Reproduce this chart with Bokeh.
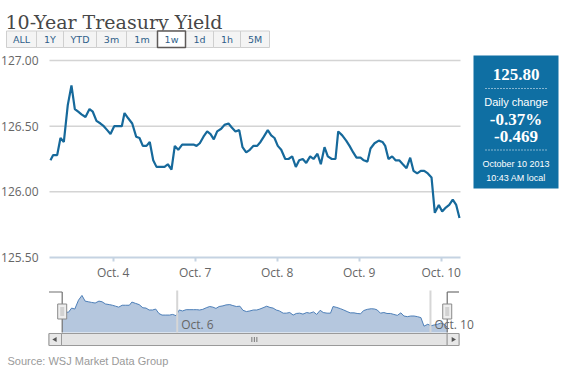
import math
from bokeh.plotting import figure
from bokeh.models import Range1d, FixedTicker, LinearAxis, PrintfTickFormatter
from bokeh.core.properties import value
from bokeh.embed import file_html
from bokeh.resources import INLINE

# ---------------- data ----------------
TITLE = "10-Year Treasury Yield"
BUTTONS = ["ALL", "1Y", "YTD", "3m", "1m", "1w", "1d", "1h", "5M"]
SELECTED = "1w"

# x: trading-day index (Oct. 4 = 0, Oct. 7 = 1, ... Oct. 10 = 4), hourly readings
DAYS = [-0.765, -0.732, -0.683, -0.643, -0.602, -0.554, -0.509, -0.468, -0.427, -0.387,
        -0.338, -0.289, -0.249, -0.204, -0.155, -0.115, -0.073, -0.033, 0.012, 0.056,
        0.105, 0.138, 0.183, 0.232, 0.280, 0.321, 0.361, 0.406, 0.446, 0.488,
        0.528, 0.577, 0.626, 0.666, 0.711, 0.751, 0.793, 0.841, 0.890, 0.939,
        0.979, 1.016, 1.056, 1.101, 1.146, 1.187, 1.227, 1.268, 1.317, 1.357,
        1.406, 1.446, 1.491, 1.537, 1.577, 1.622, 1.666, 1.711, 1.756, 1.796,
        1.837, 1.885, 1.927, 1.967, 2.007, 2.049, 2.098, 2.138, 2.183, 2.227,
        2.268, 2.312, 2.354, 2.402, 2.443, 2.491, 2.532, 2.577, 2.617, 2.666,
        2.711, 2.744, 2.793, 2.841, 2.882, 2.927, 2.967, 3.016, 3.056, 3.101,
        3.138, 3.187, 3.239, 3.284, 3.317, 3.357, 3.402, 3.443, 3.488, 3.532,
        3.577, 3.622, 3.662, 3.707, 3.751, 3.793, 3.837, 3.882, 3.922, 3.971,
        4.012, 4.056, 4.098, 4.141, 4.183, 4.223]
YIELD = [126.24, 126.28, 126.28, 126.41, 126.38, 126.66, 126.81, 126.63, 126.61, 126.59,
         126.57, 126.63, 126.61, 126.54, 126.52, 126.50, 126.47, 126.44, 126.50, 126.50,
         126.50, 126.60, 126.56, 126.52, 126.42, 126.41, 126.35, 126.35, 126.38, 126.24,
         126.19, 126.19, 126.19, 126.21, 126.17, 126.35, 126.32, 126.36, 126.36, 126.36,
         126.36, 126.35, 126.37, 126.42, 126.46, 126.44, 126.40, 126.46, 126.48, 126.51,
         126.52, 126.49, 126.46, 126.47, 126.34, 126.30, 126.32, 126.35, 126.35, 126.38,
         126.42, 126.47, 126.43, 126.41, 126.35, 126.32, 126.25, 126.25, 126.27, 126.19,
         126.24, 126.25, 126.22, 126.27, 126.25, 126.29, 126.21, 126.34, 126.27, 126.25,
         126.25, 126.46, 126.43, 126.39, 126.35, 126.30, 126.26, 126.26, 126.24, 126.23,
         126.33, 126.37, 126.39, 126.38, 126.35, 126.25, 126.27, 126.24, 126.24, 126.21,
         126.18, 126.26, 126.16, 126.14, 126.16, 126.16, 126.14, 126.11, 125.84, 125.90,
         125.85, 125.88, 125.90, 125.94, 125.90, 125.80]

XTICKS = [0, 1, 2, 3, 4]
XLABELS = ["Oct. 4", "Oct. 7", "Oct. 8", "Oct. 9", "Oct. 10"]
YTICKS = [125.5, 126.0, 126.5, 127.0]
NAV_TICKS = [0.725, 4.006]
NAV_LABELS = ["Oct. 6", "Oct. 10"]

LAST = "125.80"
CHANGE_LABEL = "Daily change"
CHANGE_PCT = "-0.37%"
CHANGE_ABS = "-0.469"
DATE = "October 10 2013"
TIME = "10:43 AM local"
SOURCE = "Source: WSJ Market Data Group"

# ---------------- styles / layout ----------------
SANS = value("Open Sans")
ARIAL = value("Liberation Sans")
SERIF = value("Liberation Serif")
AXIS_TXT = "#666666"
LINE_BLUE = "#16699b"
PANEL_BLUE = "#0f6fa3"

W, H = 562, 367
PX0, PX1 = 0, W              # page-pixel coordinates covered by the canvas
PY0, PY1 = 0, H

# main chart: plot area in page pixels and its scale
MAIN_L, MAIN_R = 49, 460
DAY0_PX, PX_PER_DAY = 112.7, 82.0
VAL_REF, VAL_REF_PX, PX_PER_VAL = 127.0, 60.0, 197 / 1.5
# navigator scale
NAV_PX_PER_DAY = 77.19
NAV_D0_PX = 61.7 + 0.765 * NAV_PX_PER_DAY
NAV_V0, NAV_V0_PX, NAV_PX_PER_VAL = 125.64, 332.0, 31.7


def mxv(px):
    return (px - DAY0_PX) / PX_PER_DAY


def myv(py):
    return VAL_REF - (py - VAL_REF_PX) / PX_PER_VAL


def nxv(px):
    return (px - NAV_D0_PX) / NAV_PX_PER_DAY


def nyv(py):
    return NAV_V0 + (NAV_V0_PX - py) / NAV_PX_PER_VAL


p = figure(width=W, height=H, x_range=Range1d(PX0, PX1), y_range=Range1d(PY1, PY0),
           output_backend="svg", toolbar_location=None,
           x_axis_location=None, y_axis_location=None)
p.min_border_left = 0
p.min_border_right = 0
p.min_border_top = 0
p.min_border_bottom = 0
p.outline_line_color = None
p.grid.visible = False
p.extra_x_ranges = {"mx": Range1d(mxv(PX0), mxv(PX1)), "nx": Range1d(nxv(PX0), nxv(PX1))}
p.extra_y_ranges = {"my": Range1d(myv(PY1), myv(PY0)), "ny": Range1d(nyv(PY1), nyv(PY0))}

# ---------------- header: title + range buttons ----------------
p.text(x=[5], y=[21], text=[TITLE], text_font=value("DejaVu Serif"),
       text_font_size="19px", text_color="#474747", text_baseline="alphabetic")

BTN_W = [30, 27, 33, 30, 31, 28, 28, 27, 29]
lefts, rights = [], []
xpos = 6
for w in BTN_W:
    lefts.append(xpos)
    rights.append(xpos + w)
    xpos += w
centers = [(a + b) / 2 for a, b in zip(lefts, rights)]
p.quad(left=lefts, right=rights, top=30.5, bottom=47, fill_color="#f4f4f4",
       line_color="#cfcfcf", line_width=1)
si = BUTTONS.index(SELECTED)
p.quad(left=[lefts[si]], right=[rights[si]], top=30.5, bottom=47, fill_color="#ffffff",
       line_color="#5e5a58", line_width=1.5)
p.text(x=centers, y=[39] * len(centers), text=BUTTONS, text_font=value("DejaVu Sans"),
       text_font_size="9.5px", text_color="#2f5f8a", text_align="center",
       text_baseline="middle")

# ---------------- main chart ----------------
CX0, CX1 = mxv(MAIN_L), mxv(MAIN_R)
p.segment(x0=[CX0] * 3, x1=[CX1] * 3, y0=YTICKS[1:], y1=YTICKS[1:],
          x_range_name="mx", y_range_name="my", line_color="#d4d4d4", line_width=1.5)
p.line(DAYS, YIELD, x_range_name="mx", y_range_name="my", line_color=LINE_BLUE,
       line_width=2.2)

yax = LinearAxis(x_range_name="mx", y_range_name="my", fixed_location=CX0,
                 ticker=FixedTicker(ticks=YTICKS), formatter=PrintfTickFormatter(format="%.2f"))
yax.axis_line_color = None
yax.major_tick_line_color = None
yax.minor_tick_line_color = None
yax.major_label_standoff = 5
yax.major_label_text_font = "Open Sans"
yax.major_label_text_font_size = "12px"
yax.major_label_text_color = AXIS_TXT
p.add_layout(yax, "left")

xax = LinearAxis(x_range_name="mx", y_range_name="my", fixed_location=YTICKS[0],
                 bounds=(CX0, CX1), ticker=FixedTicker(ticks=XTICKS))
xax.major_label_overrides = {t: l for t, l in zip(XTICKS, XLABELS)}
xax.axis_line_color = "#c5d3e2"
xax.axis_line_width = 2
xax.major_tick_line_color = "#c5d3e2"
xax.major_tick_line_width = 2
xax.major_tick_out = 4
xax.major_tick_in = 0
xax.minor_tick_line_color = None
xax.major_label_standoff = 2
xax.major_label_text_font = "Open Sans"
xax.major_label_text_font_size = "12px"
xax.major_label_text_color = AXIS_TXT
p.add_layout(xax, "below")

# ---------------- right info panel ----------------
p.quad(left=[473], right=[558], top=[55], bottom=[188], fill_color=PANEL_BLUE, line_color=None)
cx = 515.5
p.text(x=[cx], y=[73.5], text=[LAST], text_font=SERIF, text_font_style="bold",
       text_font_size="17px", text_color="white", text_align="center", text_baseline="middle")
p.segment(x0=[485, 485], y0=[88, 149.5], x1=[548, 548], y1=[88, 149.5],
          line_color="white", line_width=1, line_dash="1 2")
p.text(x=[cx], y=[101.5], text=[CHANGE_LABEL], text_font=ARIAL, text_font_size="11px",
       text_color="white", text_align="center", text_baseline="middle")
p.text(x=[cx, cx], y=[118.5, 136], text=[CHANGE_PCT, CHANGE_ABS], text_font=SERIF,
       text_font_style="bold", text_font_size="17px", text_color="white",
       text_align="center", text_baseline="middle")
p.text(x=[cx, cx], y=[163, 177.5], text=[DATE, TIME], text_font=ARIAL,
       text_font_size="9px", text_color="white", text_align="center",
       text_baseline="middle")

# ---------------- navigator ----------------
NAV_BASE = nyv(332)
p.varea(x=DAYS, y1=[NAV_BASE] * len(DAYS), y2=YIELD, x_range_name="nx", y_range_name="ny",
        fill_color="#b5c7de")
p.line(DAYS, YIELD, x_range_name="nx", y_range_name="ny", line_color="#4d7fb8", line_width=1)
p.segment(x0=NAV_TICKS, x1=NAV_TICKS, y0=[nyv(290)] * 2, y1=[NAV_BASE] * 2,
          x_range_name="nx", y_range_name="ny", line_color="#d6d6d6", line_width=2)
p.text(x=NAV_TICKS, y=[nyv(324)] * 2, text=NAV_LABELS, x_offset=4,
       x_range_name="nx", y_range_name="ny",
       text_font=SANS, text_font_size="12px", text_color=AXIS_TXT, text_baseline="middle")

TOP_LINE = nyv(291.5)
HANDLE_MID = nyv(311)
for hx, edge in ((DAYS[0], nxv(48.5)), (DAYS[-1], nxv(458.5))):
    p.segment(x0=[edge], y0=[TOP_LINE], x1=[hx], y1=[TOP_LINE], x_range_name="nx",
              y_range_name="ny", line_color="#707070", line_width=1.2)
    p.segment(x0=[hx], y0=[TOP_LINE], x1=[hx], y1=[NAV_BASE], x_range_name="nx",
              y_range_name="ny", line_color="#707070", line_width=1.2)
    p.rect(x=[hx], y=[HANDLE_MID], width=9, height=15, width_units="screen",
           height_units="screen", x_range_name="nx", y_range_name="ny",
           fill_color="#eeeeee", line_color="#8a8a8a", line_width=1)
    p.rect(x=[hx], y=[HANDLE_MID], width=4, height=9, width_units="screen",
           height_units="screen", x_range_name="nx", y_range_name="ny",
           fill_color="#d2d2d2", line_color=None)

# ---------------- scrollbar + source ----------------
p.quad(left=[48.5], right=[458.5], top=[333], bottom=[345], fill_color="#eeeeee",
       line_color="#a8a8a8")
p.quad(left=[61], right=[446.7], top=[333], bottom=[345], fill_color="#e4e4e4",
       line_color="#9a9a9a")
p.quad(left=[48.5, 446.7], right=[61, 458.5], top=[333, 333], bottom=[345, 345],
       fill_color="#e8e8e8", line_color="#9a9a9a")
p.scatter(x=[54.7], y=[339], marker="triangle", size=5, angle=math.pi / 2,
          fill_color="#555555", line_color=None)
p.scatter(x=[452.6], y=[339], marker="triangle", size=5, angle=-math.pi / 2,
          fill_color="#555555", line_color=None)
gx = (61 + 446.7) / 2
p.segment(x0=[gx - 2.5, gx, gx + 2.5], y0=[336.5] * 3, x1=[gx - 2.5, gx, gx + 2.5],
          y1=[341.5] * 3, line_color="#777777", line_width=1)
p.text(x=[7], y=[360], text=[SOURCE], text_font=ARIAL, text_font_size="11px",
       text_color="#9a9a9a", text_baseline="middle")

open("out.html", "w").write(file_html(p, INLINE))
